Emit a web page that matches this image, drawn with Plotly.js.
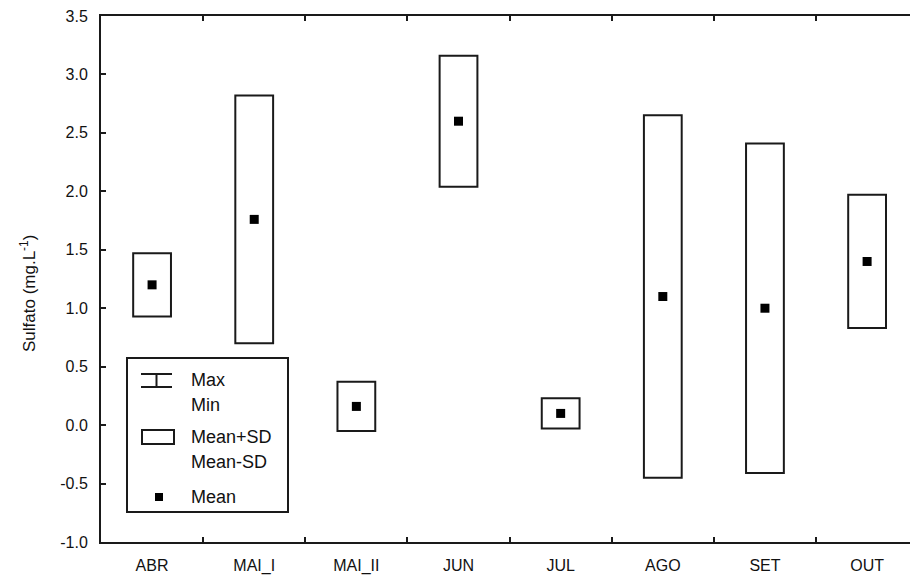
<!DOCTYPE html>
<html>
<head>
<meta charset="utf-8">
<script src="https://cdn.plot.ly/plotly-3.0.1.min.js"></script>
<style>
  html, body { margin: 0; padding: 0; background: #fff; overflow: hidden; }
  #chart { width: 910px; height: 576px; }
</style>
</head>
<body>
<div id="chart"></div>
<script>
// Sulfate concentration per sampling campaign: mean and standard deviation
const months = ["ABR", "MAI_I", "MAI_II", "JUN", "JUL", "AGO", "SET", "OUT"];
const meanVals = [1.20, 1.76, 0.16, 2.60, 0.10, 1.10, 1.00, 1.40];
const sdVals   = [0.27, 1.06, 0.21, 0.56, 0.13, 1.55, 1.41, 0.57];

const yTickVals = [-1.0, -0.5, 0.0, 0.5, 1.0, 1.5, 2.0, 2.5, 3.0, 3.5];
const yTickText = ["-1.0", "-0.5", "0.0", "0.5", "1.0", "1.5", "2.0", "2.5", "3.0", "3.5"];

const yTitle = "Sulfato (mg.L<sup>-1</sup>)";
const legendLabels = ["Max", "Min", "Mean+SD", "Mean-SD", "Mean"];

const W = 910, H = 576;
const M = { l: 101, r: 0, t: 16, b: 34 };
const plotW = W - M.l - M.r, plotH = H - M.t - M.b;
// pixel position -> paper coordinates (used for the hand-built legend panel)
const px = x => (x - M.l) / plotW;
const py = y => (H - M.b - y) / plotH;

const ink = "#1a1a1a";
const family = "Arial, 'Liberation Sans', sans-serif";
const tickFont = { family: family, size: 16, color: "#111" };
const legendFont = { family: family, size: 18, color: "#111" };

// Mean ± SD boxes
const boxes = {
  type: "bar",
  x: months,
  base: meanVals.map((m, i) => m - sdVals[i]),
  y: sdVals.map(s => 2 * s),
  width: 0.37,
  marker: { color: "rgba(255,255,255,1)", line: { color: ink, width: 2 } },
  hoverinfo: "skip",
  showlegend: false
};

// Mean markers
const means = {
  type: "scatter",
  mode: "markers",
  x: months,
  y: meanVals,
  marker: { symbol: "square", size: 9, color: "#000" },
  showlegend: false
};

const shapes = [
  // legend frame
  { type: "rect", xref: "paper", yref: "paper", x0: px(127), x1: px(288), y0: py(512), y1: py(358),
    line: { color: ink, width: 2 }, fillcolor: "#fff", layer: "above" },
  // Max/Min symbol
  { type: "line", xref: "paper", yref: "paper", x0: px(141), x1: px(172), y0: py(374), y1: py(374), line: { color: ink, width: 2 }, layer: "above" },
  { type: "line", xref: "paper", yref: "paper", x0: px(141), x1: px(172), y0: py(387), y1: py(387), line: { color: ink, width: 2 }, layer: "above" },
  { type: "line", xref: "paper", yref: "paper", x0: px(156.5), x1: px(156.5), y0: py(374), y1: py(387), line: { color: ink, width: 2 }, layer: "above" },
  // Mean±SD symbol
  { type: "rect", xref: "paper", yref: "paper", x0: px(142), x1: px(174), y0: py(444), y1: py(430), line: { color: ink, width: 2 }, fillcolor: "#fff", layer: "above" },
  // Mean symbol
  { type: "rect", xref: "paper", yref: "paper", x0: px(155), x1: px(163), y0: py(501), y1: py(493), line: { width: 0 }, fillcolor: "#000", layer: "above" }
];

const legendY = [380, 405, 437, 462, 497];
const annotations = legendLabels.map((t, i) => ({
  text: t, xref: "paper", yref: "paper", x: px(189), y: py(legendY[i]),
  xanchor: "left", yanchor: "middle", showarrow: false, font: legendFont
}));

// rotated y-axis title
annotations.push({
  text: yTitle, xref: "paper", yref: "paper", x: px(28), y: py(294),
  xanchor: "center", yanchor: "middle", textangle: -90, showarrow: false,
  font: { family: family, size: 17, color: "#111" }
});

const layout = {
  width: W, height: H,
  margin: M,
  paper_bgcolor: "#fff", plot_bgcolor: "#fff",
  font: tickFont,
  showlegend: false,
  bargap: 0,
  xaxis: {
    type: "category",
    range: [-0.5, 7.42],
    tickson: "boundaries",
    ticks: "inside", ticklen: 5, tickwidth: 2, tickcolor: ink,
    showline: true, linecolor: ink, linewidth: 2,
    mirror: "ticks",
    showgrid: false, zeroline: false,
    ticklabelstandoff: 8,
    tickfont: tickFont
  },
  yaxis: {
    range: [-1.0, 3.5],
    tickvals: yTickVals, ticktext: yTickText,
    ticks: "inside", ticklen: 5, tickwidth: 2, tickcolor: ink,
    showline: true, linecolor: ink, linewidth: 2,
    showgrid: false, zeroline: false,
    ticklabelstandoff: 8,
    tickfont: tickFont
  },
  shapes: shapes,
  annotations: annotations
};

Plotly.newPlot("chart", [boxes, means], layout, { staticPlot: true, displayModeBar: false });
</script>
</body>
</html>
